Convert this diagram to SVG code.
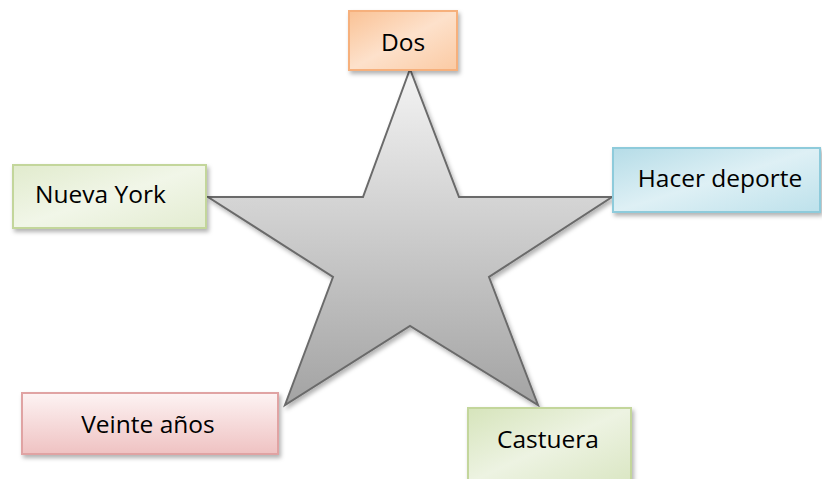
<svg xmlns="http://www.w3.org/2000/svg" width="822" height="479" viewBox="0 0 822 479">
  <defs>
    <filter id="shadow" x="-10%" y="-10%" width="130%" height="140%">
      <feDropShadow dx="2" dy="3" stdDeviation="2.2" flood-color="#000" flood-opacity="0.3"/>
    </filter>
    <linearGradient id="gStar" x1="0" y1="0" x2="0" y2="1">
      <stop offset="0" stop-color="#f4f4f4"/>
      <stop offset="1" stop-color="#a3a3a3"/>
    </linearGradient>
    <linearGradient id="gOrange" x1="0" y1="0" x2="1" y2="1">
      <stop offset="0" stop-color="#fac295"/>
      <stop offset="0.5" stop-color="#fde1cb"/>
      <stop offset="1" stop-color="#fbcaa3"/>
    </linearGradient>
    <linearGradient id="gGreen" x1="0" y1="0" x2="1" y2="1">
      <stop offset="0" stop-color="#e1ebcd"/>
      <stop offset="0.5" stop-color="#f1f6e8"/>
      <stop offset="1" stop-color="#e3ecd1"/>
    </linearGradient>
    <linearGradient id="gGreen2" x1="0" y1="0" x2="1" y2="1">
      <stop offset="0" stop-color="#d6e4bb"/>
      <stop offset="0.5" stop-color="#edf3e2"/>
      <stop offset="1" stop-color="#dae6c3"/>
    </linearGradient>
    <linearGradient id="gBlue" x1="0" y1="0" x2="1" y2="1">
      <stop offset="0" stop-color="#b5dce7"/>
      <stop offset="0.5" stop-color="#def0f5"/>
      <stop offset="1" stop-color="#bde1eb"/>
    </linearGradient>
    <linearGradient id="gRed" x1="0" y1="0" x2="0" y2="1">
      <stop offset="0" stop-color="#fdf3f3"/>
      <stop offset="1" stop-color="#efc2c2"/>
    </linearGradient>
    <style>
      .box { stroke-width: 2; filter: url(#shadow); }
      .lbl { font-family: "Open Sans", "Liberation Sans", sans-serif; font-size: 24.5px; fill: #000; }
      .star { fill: url(#gStar); stroke: #6b6b6b; stroke-width: 2; stroke-linejoin: miter; filter: url(#shadow); }
    </style>
  </defs>
  <rect width="822" height="479" fill="#fff"/>

  <g id="star">
    <polygon class="star" points="410,69 363,197 208,197 333,277 285,405 410,326 538,405 489,277 612,197 459,197"/>
  </g>

  <g id="node-dos">
    <rect class="box" x="349" y="11" width="108" height="59" fill="url(#gOrange)" stroke="#f6b07c"/>
    <text class="lbl" x="403" y="51" text-anchor="middle">Dos</text>
  </g>

  <g id="node-nueva-york">
    <rect class="box" x="13" y="165" width="193" height="63" fill="url(#gGreen)" stroke="#c3d69b"/>
    <text class="lbl" x="35" y="203">Nueva York</text>
  </g>

  <g id="node-hacer-deporte">
    <rect class="box" x="613" y="148" width="207" height="64" fill="url(#gBlue)" stroke="#8ecbdb"/>
    <text class="lbl" x="720" y="187" text-anchor="middle">Hacer deporte</text>
  </g>

  <g id="node-veinte-anos">
    <rect class="box" x="22" y="393" width="256" height="61" fill="url(#gRed)" stroke="#e0a3a3"/>
    <text class="lbl" x="148" y="433" text-anchor="middle">Veinte años</text>
  </g>

  <g id="node-castuera">
    <rect class="box" x="468" y="408" width="163" height="75" fill="url(#gGreen2)" stroke="#c3d69b"/>
    <text class="lbl" x="548" y="448" text-anchor="middle">Castuera</text>
  </g>
</svg>
